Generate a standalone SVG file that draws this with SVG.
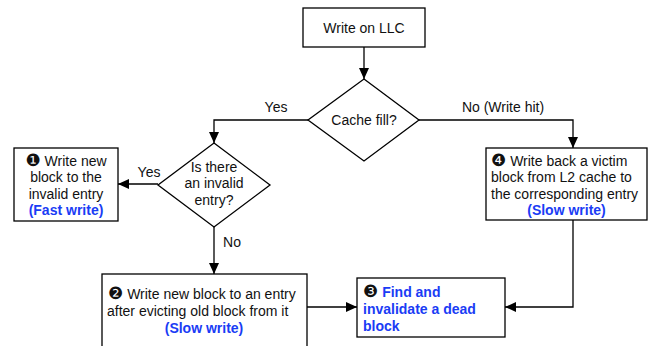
<svg xmlns="http://www.w3.org/2000/svg" width="655" height="346" viewBox="0 0 655 346">
  <style>
    .shape { fill: #ffffff; stroke: #000000; stroke-width: 1.3; }
    .edge { fill: none; stroke: #000000; stroke-width: 1.3; }
    text { font-family: "Liberation Sans", Arial, "DejaVu Sans", sans-serif; font-size: 14px; fill: #111111; }
    .num { font-family: "DejaVu Sans", sans-serif; font-size: 17px; }
    .slow { fill: #1a3cf5; font-weight: bold; }
    .mid { text-anchor: middle; }
  </style>
  <defs>
    <marker id="arrow" markerUnits="userSpaceOnUse" markerWidth="12" markerHeight="10" refX="11" refY="5" orient="auto">
      <path d="M0,0 L11,5 L0,10 Z" fill="#000000"/>
    </marker>
  </defs>

  <g id="connectors">
    <path class="edge" d="M364,47 V79" marker-end="url(#arrow)"/>
    <path class="edge" d="M308,120 H214 V143" marker-end="url(#arrow)"/>
    <path class="edge" d="M419,120 H573 V148" marker-end="url(#arrow)"/>
    <path class="edge" d="M158,184 H118" marker-end="url(#arrow)"/>
    <path class="edge" d="M214,227 V274" marker-end="url(#arrow)"/>
    <path class="edge" d="M307,307 H357" marker-end="url(#arrow)"/>
    <path class="edge" d="M573,220 V307 H505" marker-end="url(#arrow)"/>
    <text class="mid" x="276" y="112">Yes</text>
    <text class="mid" x="503" y="112">No (Write hit)</text>
    <text class="mid" x="149" y="177">Yes</text>
    <text class="mid" x="232" y="247">No</text>
  </g>

  <g id="start">
    <rect class="shape" x="303" y="8" width="122" height="39"/>
    <text class="mid" x="364" y="33">Write on LLC</text>
  </g>

  <g id="cache-fill">
    <path class="shape" d="M364,79 L419,120 L364,161 L308,120 Z"/>
    <text class="mid" x="364" y="124.5">Cache fill?</text>
  </g>

  <g id="invalid-entry">
    <path class="shape" d="M214,143 L270,185 L214,227 L158,185 Z"/>
    <text class="mid" x="214" y="171.5">Is there</text>
    <text class="mid" x="214" y="188">an invalid</text>
    <text class="mid" x="214" y="204.5">entry?</text>
  </g>

  <g id="fast-write">
    <rect class="shape" x="14" y="148" width="104" height="73"/>
    <text class="mid" x="66" y="165.5"><tspan class="num">❶</tspan> Write new</text>
    <text class="mid" x="66" y="182">block to the</text>
    <text class="mid" x="66" y="198.5">invalid entry</text>
    <text class="mid slow" x="66" y="215">(Fast write)</text>
  </g>

  <g id="write-back">
    <rect class="shape" x="486" y="148" width="161" height="72"/>
    <text x="491" y="165.5"><tspan class="num">❹</tspan> Write back a victim</text>
    <text x="491" y="182">block from L2 cache to</text>
    <text x="491" y="198.5">the corresponding entry</text>
    <text class="mid slow" x="566.5" y="215">(Slow write)</text>
  </g>

  <g id="evict-write">
    <rect class="shape" x="102" y="274" width="205" height="80"/>
    <text x="108" y="299"><tspan class="num">❷</tspan> Write new block to an entry</text>
    <text x="107" y="316">after evicting old block from it</text>
    <text class="mid slow" x="204" y="333">(Slow write)</text>
  </g>

  <g id="dead-block">
    <rect class="shape" x="357" y="278" width="148" height="59"/>
    <text class="slow" x="363" y="297"><tspan class="num" style="fill:#111111;font-weight:normal">❸</tspan> Find and</text>
    <text class="slow" x="363" y="314">invalidate a dead</text>
    <text class="slow" x="363" y="331">block</text>
  </g>
</svg>
